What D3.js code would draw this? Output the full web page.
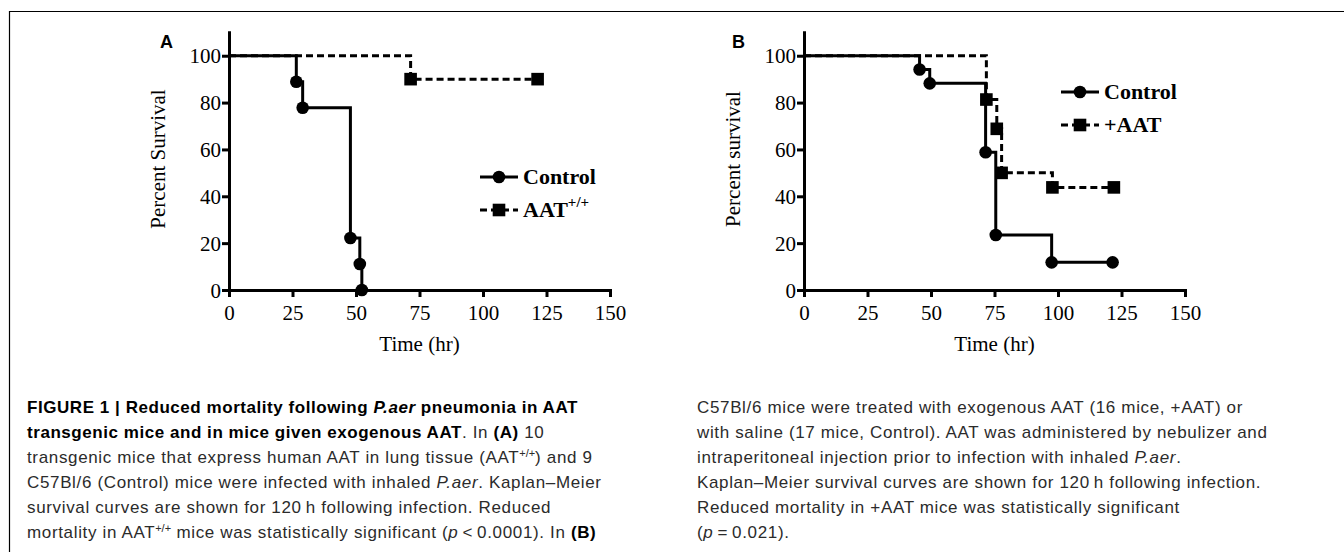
<!DOCTYPE html>
<html>
<head>
<meta charset="utf-8">
<script src="https://cdn.jsdelivr.net/npm/d3@7"></script>
<style>
  body { margin:0; background:#fff; }
  #wrap { position:relative; width:1344px; height:552px; overflow:hidden; }
  svg { position:absolute; left:0; top:0; }
  .cap { position:absolute; font-family:"Liberation Sans", Arial, sans-serif; font-size:17px; letter-spacing:0.65px; color:#2b2b2b; white-space:nowrap; line-height:25px; }
  .cap b { color:#000; letter-spacing:0.55px; }
  .cap sup { font-size:11px; line-height:0; vertical-align:6px; letter-spacing:0; }
</style>
</head>
<body>
<div id="wrap"></div>
<script>
// survival data (time in hr, percent survival)
const ctrlA_time = [0, 26.5, 29, 47.8, 51.5, 52.3];
const ctrlA_surv = [100, 88.9, 77.8, 22.2, 11.1, 0];
const aatA_time = [0, 71.5, 121.5];
const aatA_surv = [100, 90, 90];

const ctrlB_time = [0, 45.5, 49.5, 71.5, 75.5, 97.5, 121.5];
const ctrlB_surv = [100, 94.1, 88.2, 58.8, 23.5, 11.8, 11.8];
const aatB_time = [0, 71.8, 75.9, 77.8, 97.8, 122];
const aatB_surv = [100, 81.3, 68.8, 50, 43.8, 43.8];

const xTicks = [0, 25, 50, 75, 100, 125, 150];
const yTicks = [0, 20, 40, 60, 80, 100];

const SERIF = '"Liberation Serif", "Times New Roman", serif';

const svg = d3.select('#wrap').append('svg').attr('width', 1344).attr('height', 552);

// outer frame (top + left)
svg.append('path').attr('d', 'M9.5,552V11.5H1344').attr('fill', 'none').attr('stroke', '#000').attr('stroke-width', 1.2);

function zip(t, s) { return t.map((v, i) => ({ t: v, s: s[i] })); }

function panel(opts) {
  const x = d3.scaleLinear().domain([0, 150]).range([opts.x0, opts.x0 + 381]);
  const y = d3.scaleLinear().domain([0, 110]).range([290, 32.3]);
  const g = svg.append('g');

  const xa = g.append('g').attr('transform', 'translate(0,290)')
    .call(d3.axisBottom(x).tickValues(xTicks).tickSize(7).tickSizeOuter(0).tickPadding(4));
  const ya = g.append('g').attr('transform', `translate(${opts.x0},0)`)
    .call(d3.axisLeft(y).tickValues(yTicks).tickSize(7).tickSizeOuter(0).tickPadding(1));
  [xa, ya].forEach(a => {
    a.select('.domain').attr('stroke-width', 3).attr('stroke-linecap', 'square');
    a.selectAll('.tick line').attr('stroke-width', 3);
    a.selectAll('text').attr('font-family', SERIF).attr('font-size', 21).attr('fill', '#000');
  });
  xa.selectAll('text').attr('dy', '0.9em');
  ya.selectAll('text').attr('dy', '0.34em');

  g.append('text').attr('x', x(75)).attr('y', 351).attr('text-anchor', 'middle')
    .attr('font-family', SERIF).attr('font-size', 21).text('Time (hr)');
  g.append('text').attr('transform', `translate(${opts.x0 - 64},159) rotate(-90)`)
    .attr('text-anchor', 'middle').attr('font-family', SERIF).attr('font-size', 21).text(opts.ylab);
  g.append('text').attr('x', opts.letterX).attr('y', 48)
    .attr('font-family', '"Liberation Sans", Arial, sans-serif').attr('font-weight', 'bold')
    .attr('font-size', 18).text(opts.letter);

  const line = d3.line().x(d => x(d.t)).y(d => y(d.s)).curve(d3.curveStepAfter);
  opts.series.forEach(s => {
    const pts = zip(s.t, s.s);
    g.append('path').attr('d', line(pts)).attr('fill', 'none').attr('stroke', '#000')
      .attr('stroke-width', 3).attr('stroke-dasharray', s.dash ? '7,4' : null);
    const mk = g.selectAll(null).data(pts.slice(1)).enter();
    if (s.shape === 'circle') {
      mk.append('circle').attr('cx', d => x(d.t)).attr('cy', d => y(d.s)).attr('r', 6.3);
    } else {
      mk.append('rect').attr('x', d => x(d.t) - 6.3).attr('y', d => y(d.s) - 6.3)
        .attr('width', 12.6).attr('height', 12.6);
    }
  });

  // legend
  const lg = g.append('g').attr('transform', `translate(${opts.legX},${opts.legY})`);
  opts.series.forEach((s, i) => {
    const r = lg.append('g').attr('transform', `translate(0,${i * opts.legGap})`);
    r.append('line').attr('x1', 0).attr('x2', 38).attr('stroke', '#000').attr('stroke-width', 3)
      .attr('stroke-dasharray', s.dash ? '7,4' : null);
    if (s.shape === 'circle') r.append('circle').attr('cx', 19).attr('r', 6.3);
    else r.append('rect').attr('x', 12.7).attr('y', -6.3).attr('width', 12.6).attr('height', 12.6);
    const t = r.append('text').attr('x', 43).attr('y', 7).attr('font-family', SERIF)
      .attr('font-weight', 'bold').attr('font-size', 22);
    t.append('tspan').text(s.name);
    if (s.sup) t.append('tspan').attr('dy', -10).attr('font-size', 15).text(s.sup);
  });
}

panel({
  x0: 229, letter: 'A', letterX: 160, ylab: 'Percent Survival',
  legX: 480, legY: 177, legGap: 33,
  series: [
    { name: 'Control', t: ctrlA_time, s: ctrlA_surv, shape: 'circle', dash: false },
    { name: 'AAT', sup: '+/+', t: aatA_time, s: aatA_surv, shape: 'square', dash: true }
  ]
});
panel({
  x0: 804, letter: 'B', letterX: 732, ylab: 'Percent survival',
  legX: 1061, legY: 92, legGap: 33,
  series: [
    { name: 'Control', t: ctrlB_time, s: ctrlB_surv, shape: 'circle', dash: false },
    { name: '+AAT', t: aatB_time, s: aatB_surv, shape: 'square', dash: true }
  ]
});

// caption
const capL = d3.select('#wrap').append('div').attr('class', 'cap').style('left', '27px').style('top', '395px');
capL.html(
  '<b>FIGURE 1 | Reduced mortality following <i>P.aer</i> pneumonia in AAT</b><br>' +
  '<b>transgenic mice and in mice given exogenous AAT</b>. In <b>(A)</b> 10<br>' +
  'transgenic mice that express human AAT in lung tissue (AAT<sup>+/+</sup>) and 9<br>' +
  'C57Bl/6 (Control) mice were infected with inhaled <i>P.aer</i>. Kaplan–Meier<br>' +
  'survival curves are shown for 120\u2009h following infection. Reduced<br>' +
  'mortality in AAT<sup>+/+</sup> mice was statistically significant (<i>p</i>\u2009&lt;\u20090.0001). In <b>(B)</b>'
);
const capR = d3.select('#wrap').append('div').attr('class', 'cap').style('left', '697px').style('top', '395px');
capR.html(
  'C57Bl/6 mice were treated with exogenous AAT (16 mice, +AAT) or<br>' +
  'with saline (17 mice, Control). AAT was administered by nebulizer and<br>' +
  'intraperitoneal injection prior to infection with inhaled <i>P.aer</i>.<br>' +
  'Kaplan–Meier survival curves are shown for 120\u2009h following infection.<br>' +
  'Reduced mortality in +AAT mice was statistically significant<br>' +
  '(<i>p</i>\u2009=\u20090.021).'
);
</script>
</body>
</html>
